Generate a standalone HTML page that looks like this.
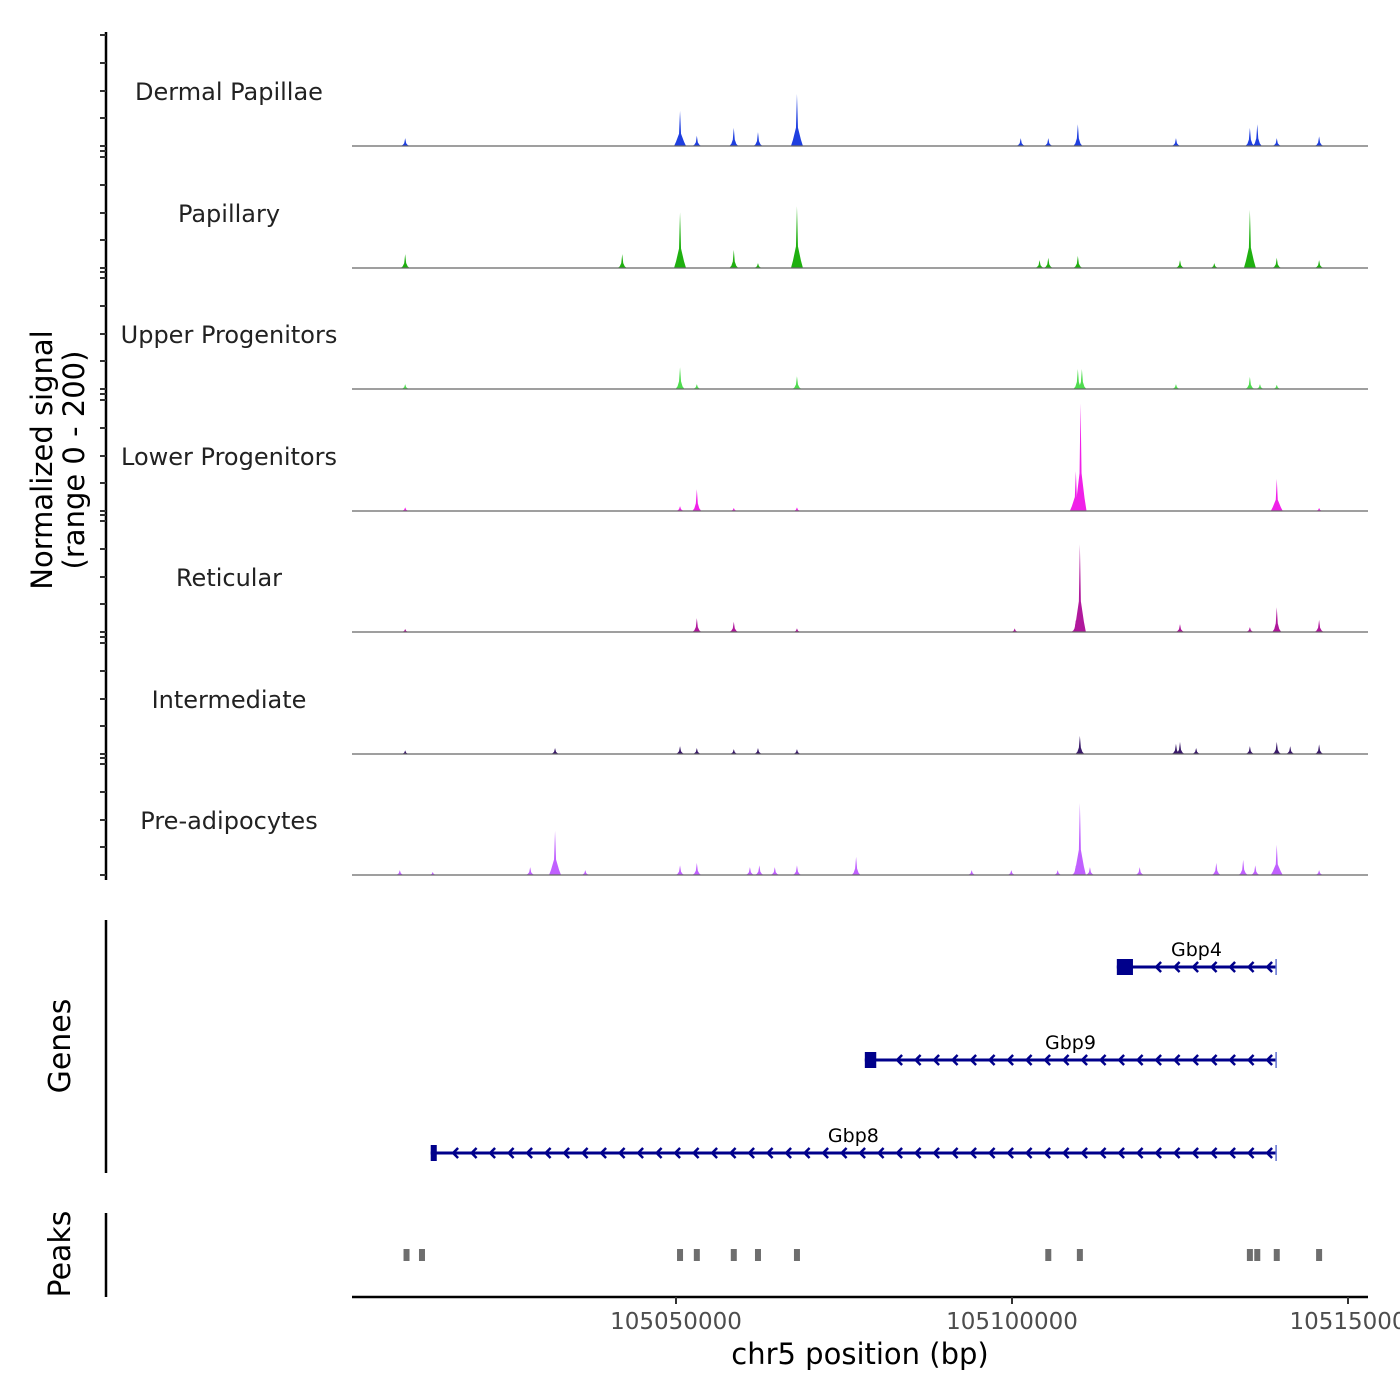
<!DOCTYPE html>
<html><head><meta charset="utf-8"><style>
body{margin:0;background:#fff}
svg{display:block;font-family:"DejaVu Sans","Liberation Sans",sans-serif}
</style></head><body>
<svg id="c" width="1400" height="1400" viewBox="0 0 1400 1400"></svg>
<script>
const trackNames=["Dermal Papillae","Papillary","Upper Progenitors","Lower Progenitors","Reticular","Intermediate","Pre-adipocytes"];
const trackColors=["#1f3fe0","#1fb010","#4fdc4f","#f020e8","#b0189c","#3a1a6a","#c060ff"];
// peak positions (kb offset from 104,000,000) and heights (signal units, 0-200)
const dpPos=[1009.7,1050.6,1053.1,1058.6,1062.2,1068.0,1101.3,1105.4,1109.8,1124.4,1135.4,1136.5,1139.4,1145.7];
const dpVal=[13,58,17,30,23,86,13,13,36,13,30,36,13,16];
const papPos=[1009.7,1042.0,1050.6,1058.6,1062.2,1068.0,1104.1,1105.4,1109.8,1125.0,1130.1,1135.4,1139.4,1145.7];
const papVal=[23,23,92,30,8,102,13,17,20,13,8,96,17,13];
const upPos=[1009.7,1050.6,1053.1,1068.0,1109.8,1110.4,1124.4,1135.4,1136.9,1139.4];
const upVal=[8,36,8,21,33,33,8,20,8,7];
const lpPos=[1009.7,1050.6,1053.1,1058.6,1068.0,1109.5,1110.2,1139.4,1145.7];
const lpVal=[6,8,36,5,6,66,178,53,5];
const retPos=[1009.7,1053.1,1058.6,1068.0,1100.4,1109.5,1110.1,1125.0,1135.4,1139.4,1145.7];
const retVal=[5,23,17,6,6,20,145,13,8,41,20];
const intPos=[1009.7,1032.0,1050.6,1053.1,1058.6,1062.2,1068.0,1110.1,1124.4,1125.0,1127.4,1135.4,1139.4,1141.4,1145.7];
const intVal=[6,10,13,10,8,10,8,30,17,20,10,13,20,13,16];
const prePos=[1008.9,1013.8,1028.3,1032.0,1036.5,1050.6,1053.1,1061.0,1062.4,1064.7,1068.0,1076.8,1094.0,1099.9,1106.8,1109.5,1110.1,1111.6,1119.0,1130.4,1134.4,1136.2,1139.4,1145.7];
const preVal=[8,5,13,73,8,16,20,13,16,13,16,30,8,8,8,16,119,13,13,20,25,16,50,8];
const posArrs=[dpPos,papPos,upPos,lpPos,retPos,intPos,prePos];
const valArrs=[dpVal,papVal,upVal,lpVal,retVal,intVal,preVal];
const xTicks=[105050000,105100000,105150000];
const xTickLabels=["105050000","105100000","10515000"];
const genes=["Gbp4","Gbp9","Gbp8"];
const geneStart=[1115.6,1078.1,1013.5];
const geneEnd=[1139.3,1139.3,1139.3];
const geneBlockEnd=[1118.0,1079.8,1014.4];
const peakRegions=[1009.9,1012.2,1050.6,1053.1,1058.6,1062.2,1068.0,1105.4,1110.1,1135.4,1136.5,1139.4,1145.7];

const svg=document.getElementById('c');
const NS='http://www.w3.org/2000/svg';
const X0=352,X1=1368,BP0=105001786,SC=0.00672;
const xs=bp=>X0+(bp-BP0)*SC;
const xk=kb=>xs(104000000+kb*1000);
const baselines=[146,268,389,511,632,754,875];
const ys=v=>v*121/200;
function mk(tag,attrs,name,parent){const e=document.createElementNS(NS,tag);for(const k in attrs)e.setAttribute(k,attrs[k]);


(parent||svg).appendChild(e);return e;}
function txt(s,attrs,name){const t=mk('text',attrs,name);t.textContent=s;return t;}

mk('line',{x1:106,y1:32,x2:106,y2:880,stroke:'#000','stroke-width':2.5},'signal-y-axis');
baselines.forEach((b,i)=>{
  const offs=[0,28,55,83,111];if(i>0)offs.push(117);
  offs.forEach(o=>mk('line',{x1:100,y1:b-o,x2:106,y2:b-o,stroke:'#333','stroke-width':2},'y-tick'));
});
const yt=txt('',{transform:'translate(52,460) rotate(-90)','text-anchor':'middle','font-size':29,fill:'#000'},'y-axis-title');
['Normalized signal','(range 0 - 200)'].forEach((s,i)=>{const ts=document.createElementNS(NS,'tspan');ts.setAttribute('x',0);ts.setAttribute('dy',i?32:0);ts.textContent=s;


yt.appendChild(ts);});

trackNames.forEach((n,i)=>{
  const b=baselines[i];
  txt(n,{x:229,y:b-46,'text-anchor':'middle','font-size':24,fill:'#222'},'track-label');
  const g=mk('g',{},'track-'+n.toLowerCase().replace(/ /g,'-'));
  posArrs[i].forEach((p,j)=>{
    const x=xk(p),h=ys(valArrs[i][j]);
    const w=h>30?4:2.5;
    mk('path',{d:`M${x-w-2},${b} L${x-w},${b-h*0.12} L${x-1},${b-h*0.35} L${x},${b-h} L${x+1},${b-h*0.35} L${x+w},${b-h*0.12} L${x+w+2},${b} Z`,fill:trackColors[i]},'signal-peak',g);
  });
  mk('line',{x1:X0,y1:b,x2:X1,y2:b,stroke:'#666','stroke-width':1.2},'track-baseline');
});

mk('line',{x1:106,y1:920,x2:106,y2:1173,stroke:'#000','stroke-width':2.5},'genes-axis');
txt('Genes',{transform:'translate(70,1046) rotate(-90)','text-anchor':'middle','font-size':30},'genes-label');
const gy=[967,1060,1153];
genes.forEach((g,i)=>{
  const y=gy[i],xa=xk(geneStart[i]),xb=xk(geneEnd[i]);
  const gg=mk('g',{},'gene-'+g.toLowerCase());
  mk('line',{x1:xa,y1:y,x2:xb,y2:y,stroke:'#00008b','stroke-width':3},'gene-line',gg);
  mk('rect',{x:xa,y:y-8,width:xk(geneBlockEnd[i])-xa,height:16,fill:'#00008b'},'gene-utr-block',gg);
  mk('line',{x1:xb,y1:y-8,x2:xb,y2:y+8,stroke:'#6070d0','stroke-width':1.5},'gene-exon',gg);
  for(let x=xb-8;x>xk(geneBlockEnd[i])+6;x-=18.5){
    mk('path',{d:`M${x+4},${y-5} L${x-1},${y} L${x+4},${y+5}`,fill:'none',stroke:'#00008b','stroke-width':2.5},'strand-arrow',gg);
  }
  txt(g,{x:(xa+xb)/2,y:y-11,'text-anchor':'middle','font-size':19},'gene-label');
});

mk('line',{x1:106,y1:1213,x2:106,y2:1297,stroke:'#000','stroke-width':2.5},'peaks-axis');
txt('Peaks',{transform:'translate(70,1254) rotate(-90)','text-anchor':'middle','font-size':30},'peaks-label');
peakRegions.forEach(p=>mk('rect',{x:xk(p)-3,y:1249,width:6,height:12,fill:'#6e6e6e'},'peak-region'));

mk('line',{x1:X0,y1:1297,x2:X1,y2:1297,stroke:'#000','stroke-width':2.5},'x-axis');
xTicks.forEach((t,i)=>{const x=xs(t);
  mk('line',{x1:x,y1:1297,x2:x,y2:1304,stroke:'#333','stroke-width':2},'x-tick');
  txt(xTickLabels[i],{x:x,y:1329,'text-anchor':'middle','font-size':23,fill:'#4d4d4d'},'x-tick-label');});
txt('chr5 position (bp)',{x:860,y:1364,'text-anchor':'middle','font-size':29},'x-axis-title');
</script>
</body></html>
